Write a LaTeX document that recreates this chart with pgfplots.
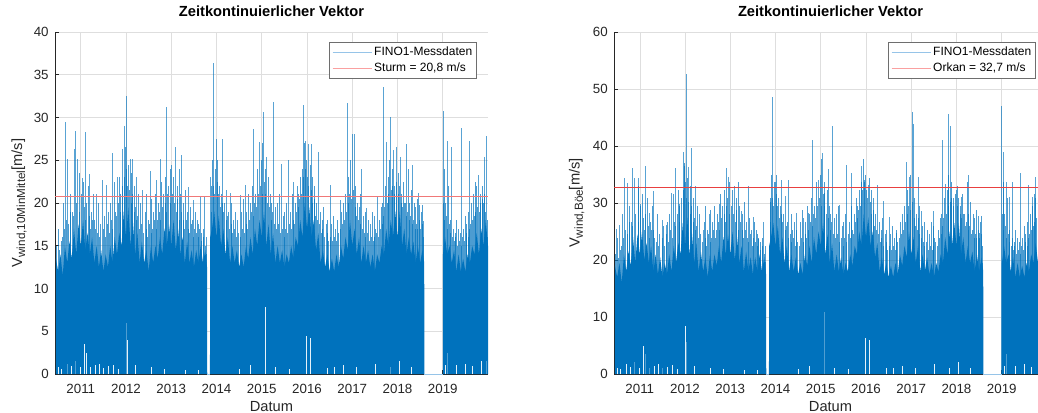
\documentclass[border=0pt]{standalone}
\usepackage{fontspec}
\setmainfont{Liberation Sans}
\usepackage{pgfplots}
\pgfplotsset{compat=1.18}

\definecolor{mblue}{RGB}{0,114,189}
\definecolor{lblue}{RGB}{150,196,232}
\definecolor{axgray}{RGB}{38,38,38}
\definecolor{gridgray}{RGB}{222,222,222}
\definecolor{legframe}{RGB}{110,110,110}
\definecolor{sturmred}{RGB}{240,120,120}
\definecolor{orkanred}{RGB}{232,64,64}
\definecolor{legred}{RGB}{250,160,160}

\newcommand{\sub}[1]{\raisebox{-0.4ex}{\fontsize{7}{8}\selectfont #1}}

\pgfplotsset{
  finoaxis/.style={
    scale only axis,
    width=259.8pt, height=205.2pt,
    anchor=south west,
    xmin=2010.43, xmax=2020.0, ymin=0,
    axis lines*=left,
    axis line style={axgray, line width=0.45pt},
    tick align=inside,
    major tick length=2.6pt,
    tick style={axgray, line width=0.45pt},
    grid=major,
    grid style={gridgray, line width=0.35pt},
    xtick={2011,2012,2013,2014,2015,2016,2017,2018,2019},
    xticklabels={2011,2012,2013,2014,2015,2016,2017,2018,2019},
    /pgf/number format/assume math mode=true,
    ticklabel style={font=\fontsize{8}{9.6}\selectfont, text=axgray},
    xticklabel style={anchor=base, yshift=-11.4pt},
    yticklabel style={anchor=east, inner sep=0pt, xshift=-3.6pt},
    title style={font=\fontsize{8.8}{10}\selectfont\bfseries, at={(0.5,1)}, anchor=base, yshift=3.2pt},
    xlabel style={font=\fontsize{8.8}{10}\selectfont, text=axgray, at={(0.5,0)}, anchor=base, yshift=-22.2pt},
    ylabel style={font=\fontsize{8.8}{10}\selectfont, text=axgray, anchor=center},
    title={Zeitkontinuierlicher Vektor},
    xlabel={Datum},
    legend cell align=left,
    legend image code/.code={\draw[#1] (0pt,0pt) -- (23.4pt,0pt);},
    legend style={at={(1,1)}, anchor=north east, xshift=-6.8pt, yshift=-5.8pt,
      draw=legframe, line width=0.5pt, fill=white,
      font=\fontsize{7.2}{8}\selectfont,
      inner xsep=1.2pt, inner ysep=1.4pt, row sep=0pt,
      nodes={inner xsep=1.2pt, inner ysep=1.4pt}},
  },
  body/.style={draw=none, fill=mblue, forget plot},
  gust/.style={ycomb, mark=none, mblue, line width=0.5pt, opacity=0.7, forget plot},
  peak/.style={ycomb, mark=none, mblue, line width=0.55pt, opacity=0.65, forget plot},
  calm/.style={ycomb, mark=none, white, line width=0.4pt, opacity=0.9, forget plot},
}

\begin{document}
\begin{tikzpicture}

% ---------------- 10-minute mean wind speed ----------------
\begin{axis}[finoaxis, at={(33pt,22.8pt)}, ymax=40,
  ytick={0,5,10,15,20,25,30,35,40},
  ylabel={V\sub{wind,10MinMittel}[m/s]},
  ylabel style={at={(axis description cs:-0.0831,0.5)}}]

\addplot[body] coordinates {
(2010.45,13.5) (2010.50,12) (2010.55,14) (2010.60,11.5) (2010.65,15) (2010.70,13) (2010.75,15.5) (2010.80,13.5)
(2010.85,17) (2010.90,14) (2010.95,17.5) (2011.00,15) (2011.05,18) (2011.10,14.5) (2011.15,16.5) (2011.20,14)
(2011.25,16) (2011.30,13) (2011.35,15) (2011.40,12.5) (2011.45,14.5) (2011.50,12) (2011.55,14) (2011.60,12.5)
(2011.65,15) (2011.70,13) (2011.75,16) (2011.80,14) (2011.85,16.5) (2011.90,15) (2011.95,19) (2012.00,16)
(2012.05,19.5) (2012.10,15) (2012.15,18) (2012.20,14) (2012.25,16.5) (2012.30,13) (2012.35,15.5) (2012.40,13)
(2012.45,14.5) (2012.50,12) (2012.55,15) (2012.60,13) (2012.65,15) (2012.70,13.5) (2012.75,16) (2012.80,14)
(2012.85,17) (2012.90,15) (2012.95,17.5) (2013.00,15) (2013.05,18) (2013.10,14.5) (2013.15,17) (2013.20,14)
(2013.25,16) (2013.30,13) (2013.35,15.5) (2013.40,13) (2013.45,14.5) (2013.50,12.5) (2013.55,14.5) (2013.60,13)
(2013.65,15) (2013.70,13) (2013.75,14.5) (2013.79,12.5) (2013.795,0) (2013.855,0) (2013.86,16)
(2013.90,17) (2013.95,19) (2014.00,16) (2014.05,18.5) (2014.10,15) (2014.15,17) (2014.20,14)
(2014.25,16) (2014.30,13) (2014.35,15) (2014.40,13) (2014.45,14.5) (2014.50,12.5) (2014.55,14) (2014.60,12.5)
(2014.65,15) (2014.70,13.5) (2014.75,16) (2014.80,14) (2014.85,17) (2014.90,15) (2014.95,18) (2015.00,16)
(2015.05,19) (2015.10,15) (2015.15,17.5) (2015.20,14) (2015.25,16.5) (2015.30,13) (2015.35,15) (2015.40,13)
(2015.45,14.5) (2015.50,12.5) (2015.55,14) (2015.60,13) (2015.65,15) (2015.70,13.5) (2015.75,16) (2015.80,15)
(2015.85,18) (2015.90,16) (2015.95,20) (2016.00,17) (2016.05,19.5) (2016.10,16) (2016.15,18) (2016.20,14.5)
(2016.25,16.5) (2016.30,13) (2016.35,14.5) (2016.40,12.5) (2016.45,14) (2016.50,12) (2016.55,13.5) (2016.60,12)
(2016.65,14) (2016.70,12.5) (2016.75,15) (2016.80,13.5) (2016.85,16) (2016.90,14.5) (2016.95,18) (2017.00,15)
(2017.05,17) (2017.10,14) (2017.15,16) (2017.20,13) (2017.25,15) (2017.30,13) (2017.35,14.5) (2017.40,12.5)
(2017.45,14) (2017.50,12) (2017.55,14) (2017.60,13) (2017.65,15) (2017.70,14) (2017.75,17) (2017.80,15)
(2017.85,18) (2017.90,16) (2017.95,19) (2018.00,16) (2018.05,19) (2018.10,15) (2018.15,17) (2018.20,14)
(2018.25,16) (2018.30,14) (2018.35,15.5) (2018.40,13) (2018.45,15) (2018.50,13) (2018.55,14.5) (2018.59,13)
(2018.595,0) (2019.00,0) (2019.005,14)
(2019.05,16) (2019.10,14) (2019.15,15) (2019.20,13) (2019.25,14.5) (2019.30,12) (2019.35,14) (2019.40,12)
(2019.45,13.5) (2019.50,12) (2019.55,14) (2019.60,13) (2019.65,15) (2019.70,14) (2019.75,16.5) (2019.80,14)
(2019.85,17) (2019.90,15) (2019.95,18) (2020.00,15)
} \closedcycle;

\addplot[gust] coordinates {
(2010.46,15) (2010.53,14.5) (2010.59,16) (2010.64,17) (2010.73,17.5) (2010.76,19) (2010.84,18.5) (2010.91,20)
(2010.96,19) (2011.02,21) (2011.08,19.5) (2011.11,18) (2011.18,18.5) (2011.21,17) (2011.25,18) (2011.33,17)
(2011.37,16.5) (2011.42,16) (2011.49,17) (2011.54,16) (2011.58,17.5) (2011.63,16.5) (2011.67,18) (2011.71,17)
(2011.79,18.5) (2011.83,20) (2011.87,19) (2011.93,22) (2011.97,23) (2012.01,24) (2012.04,22) (2012.07,21.5)
(2012.11,20) (2012.14,21) (2012.18,19) (2012.23,18) (2012.26,18.5) (2012.30,17) (2012.34,17.5) (2012.38,16.5)
(2012.44,17) (2012.48,16) (2012.52,17.5) (2012.56,16.5) (2012.59,17) (2012.63,18) (2012.67,17) (2012.70,18)
(2012.74,19) (2012.77,18) (2012.81,19.5) (2012.86,20) (2012.89,19) (2012.92,21) (2012.99,20) (2013.02,21)
(2013.07,20) (2013.11,19) (2013.14,20.5) (2013.19,18) (2013.22,19) (2013.26,18) (2013.29,17) (2013.33,18)
(2013.37,17) (2013.41,16.5) (2013.44,17.5) (2013.48,16) (2013.51,17) (2013.55,16.5) (2013.59,16) (2013.63,17)
(2013.66,15.5) (2013.72,16) (2013.76,15) (2013.78,14) (2013.88,19) (2013.93,22) (2013.96,21) (2014.01,22.5)
(2014.04,21) (2014.08,19.5) (2014.12,20) (2014.16,19) (2014.21,18) (2014.25,18.5) (2014.29,17) (2014.32,17.5)
(2014.36,16.5) (2014.40,17) (2014.44,16) (2014.49,16.5) (2014.53,16) (2014.58,17) (2014.62,16.5) (2014.66,17.5)
(2014.69,17) (2014.73,18) (2014.77,19) (2014.81,18.5) (2014.84,20) (2014.88,19.5) (2014.92,21) (2014.97,22)
(2015.01,21) (2015.06,22.5) (2015.09,21) (2015.13,20) (2015.17,19.5) (2015.21,18) (2015.24,19) (2015.28,17.5)
(2015.32,17) (2015.37,17.5) (2015.41,16.5) (2015.45,17) (2015.49,16) (2015.53,17) (2015.57,16.5) (2015.61,17.5)
(2015.65,17) (2015.69,18) (2015.72,17.5) (2015.76,19) (2015.80,19.5) (2015.84,20.5) (2015.88,21) (2015.91,23)
(2015.97,24) (2016.01,23) (2016.04,22) (2016.09,21.5) (2016.12,20) (2016.16,20.5) (2016.19,18.5) (2016.23,18)
(2016.27,17.5) (2016.31,16.5) (2016.35,17) (2016.39,16) (2016.44,16.5) (2016.48,15.5) (2016.52,16) (2016.57,15.5)
(2016.61,16) (2016.65,15.5) (2016.70,16.5) (2016.74,17) (2016.79,17.5) (2016.83,18) (2016.87,19) (2016.91,20)
(2016.94,21) (2016.99,20.5) (2017.03,21.5) (2017.06,19.5) (2017.09,18.5) (2017.13,18) (2017.17,17.5) (2017.22,17)
(2017.26,16.5) (2017.30,16) (2017.34,16.5) (2017.38,15.5) (2017.42,16) (2017.46,15.5) (2017.50,16) (2017.54,16.5)
(2017.58,16) (2017.62,17) (2017.66,17.5) (2017.69,18.5) (2017.72,19.5) (2017.77,20) (2017.81,21) (2017.86,21.5)
(2017.89,22) (2017.93,21) (2017.97,22.5) (2018.02,21) (2018.04,22) (2018.08,20) (2018.11,19.5) (2018.15,20)
(2018.19,18.5) (2018.22,19) (2018.26,18) (2018.29,18.5) (2018.33,17.5) (2018.36,18) (2018.39,17) (2018.42,17.5)
(2018.45,17) (2018.48,18) (2018.51,17) (2018.55,17.5) (2018.58,16) (2019.02,20) (2019.04,18) (2019.08,18.5)
(2019.11,17) (2019.14,17.5) (2019.18,16.5) (2019.22,16) (2019.26,15.5) (2019.29,16) (2019.33,15) (2019.37,15.5)
(2019.41,15) (2019.44,16) (2019.48,15.5) (2019.52,16.5) (2019.56,16) (2019.59,17) (2019.62,17.5) (2019.66,18)
(2019.70,18.5) (2019.73,19) (2019.77,19.5) (2019.81,19) (2019.84,20) (2019.88,20.5) (2019.92,21) (2019.94,19)
(2019.99,18)
};

\addplot[gust] coordinates {
(2010.50,17) (2010.57,15.5) (2010.62,20) (2010.68,18) (2010.78,21) (2010.82,19) (2010.98,23.5) (2011.06,22.5)
(2011.13,20) (2011.16,22) (2011.23,19) (2011.27,21) (2011.31,18) (2011.40,20) (2011.44,17.5) (2011.52,18.5)
(2011.61,19) (2011.65,20) (2011.74,22.5) (2011.77,19) (2011.85,23) (2011.88,21) (2011.99,26.5) (2012.05,24.5)
(2012.12,23.5) (2012.19,22) (2012.21,19.5) (2012.28,21) (2012.32,20) (2012.42,19) (2012.46,21) (2012.50,18)
(2012.57,20.5) (2012.61,19) (2012.65,21) (2012.72,20) (2012.79,22.5) (2012.83,21) (2012.87,23) (2012.94,22)
(2012.97,24) (2013.04,23) (2013.13,22) (2013.17,24) (2013.20,21) (2013.27,20) (2013.31,21.5) (2013.35,19)
(2013.42,19.5) (2013.46,18) (2013.53,19) (2013.57,18) (2013.61,17.5) (2013.67,16.5) (2013.70,17) (2013.77,16)
(2013.89,22) (2013.91,25) (2013.97,24) (2014.02,25) (2014.06,22) (2014.10,21) (2014.18,20) (2014.27,19)
(2014.34,20) (2014.38,18) (2014.42,19) (2014.47,18) (2014.56,19) (2014.60,20.5) (2014.67,19) (2014.71,21)
(2014.75,20) (2014.79,22) (2014.86,21) (2014.90,24) (2014.99,25) (2015.02,27) (2015.07,24) (2015.15,23)
(2015.19,21) (2015.22,20) (2015.30,19.5) (2015.34,20) (2015.38,21) (2015.47,18.5) (2015.51,19) (2015.55,20)
(2015.63,19) (2015.67,21) (2015.74,20) (2015.78,22) (2015.82,21) (2015.86,23) (2015.89,24) (2015.94,27)
(2015.99,25) (2016.07,24.5) (2016.13,23) (2016.17,22) (2016.21,20) (2016.29,19) (2016.33,18) (2016.37,19.5)
(2016.42,17.5) (2016.46,18) (2016.55,17.5) (2016.59,18.5) (2016.63,17) (2016.68,18) (2016.77,19) (2016.81,20)
(2016.85,21) (2016.92,23) (2016.97,25) (2017.07,22) (2017.11,20) (2017.15,19.5) (2017.18,21) (2017.24,18.5)
(2017.28,19) (2017.36,18) (2017.40,17.5) (2017.44,19) (2017.48,18.5) (2017.52,17) (2017.60,18) (2017.64,19.5)
(2017.67,20) (2017.73,22) (2017.79,23) (2017.82,25) (2017.88,24) (2017.94,22) (2018.01,23.5) (2018.03,22)
(2018.09,21) (2018.13,22.5) (2018.17,20) (2018.23,24) (2018.27,20) (2018.31,21.5) (2018.37,20) (2018.40,19.5)
(2018.43,20.5) (2018.49,19.8) (2018.53,19) (2018.56,19.8) (2019.03,24) (2019.06,20) (2019.13,22) (2019.16,18)
(2019.23,17) (2019.27,16.5) (2019.31,18) (2019.35,17) (2019.39,16.5) (2019.45,17) (2019.49,18.5) (2019.53,17.5)
(2019.57,19) (2019.64,20) (2019.68,21) (2019.72,22.5) (2019.75,22) (2019.83,21) (2019.87,22) (2019.90,20)
(2019.98,16)
};

\addplot[calm] coordinates {
(2010.50,0.8) (2010.58,0.6) (2010.70,1.2) (2010.80,0.9) (2010.87,1.5) (2011.00,0.8) (2011.08,3.5) (2011.12,2.5)
(2011.20,0.8) (2011.33,1.0) (2011.42,1.2) (2011.50,0.7) (2011.60,0.9) (2011.73,1.1) (2011.82,0.6) (2012.00,6.0)
(2012.03,4.0) (2012.20,1.0) (2012.55,0.8) (2012.85,0.6) (2013.30,0.5) (2013.60,0.5) (2014.50,0.6) (2014.75,1.0)
(2015.08,7.8) (2015.30,0.8) (2015.60,0.6) (2015.98,4.5) (2016.07,4.2) (2016.45,0.7) (2016.60,0.8) (2016.80,1.0)
(2017.10,0.8) (2017.50,1.2) (2017.85,0.8) (2018.05,1.5) (2018.30,0.8) (2019.05,1.0) (2019.10,2.5) (2019.30,1.0)
(2019.50,1.2) (2019.65,0.9) (2019.85,1.5) (2019.97,1.5)
};

\addplot[peak] coordinates {
(2010.66,29.5) (2010.71,25.2) (2010.85,26.3) (2010.88,28.4) (2010.93,25.2) (2011.03,22.9) (2011.10,28.3)
(2011.19,23.4) (2011.35,21.1) (2011.47,22.7) (2011.57,22.1) (2011.69,25.9) (2011.80,23.1) (2011.91,26.3)
(2011.96,29.0) (2012.02,32.5) (2012.09,25.1) (2012.15,25.1) (2012.24,23.1) (2012.37,21.5) (2012.53,23.8)
(2012.68,22.7) (2012.75,25.2) (2012.90,31.2) (2013.00,24.4) (2013.09,26.6) (2013.23,25.6) (2013.38,21.9)
(2013.49,20.3) (2013.64,20.7) (2013.74,20.7) (2013.87,23.1) (2013.94,36.4) (2013.99,27.5) (2014.14,27.5)
(2014.23,21.5) (2014.30,21.2) (2014.52,20.9) (2014.63,22.1) (2014.82,28.6) (2014.95,27.1) (2015.04,30.6)
(2015.11,25.4) (2015.26,31.8) (2015.43,24.6) (2015.59,25.0) (2015.70,22.5) (2015.92,31.5) (2015.96,27.3)
(2016.03,26.9) (2016.10,26.9) (2016.25,26.0) (2016.51,22.1) (2016.73,20.3) (2016.89,31.7) (2017.01,28.1)
(2017.04,28.1) (2017.21,24.0) (2017.32,19.4) (2017.56,20.7) (2017.70,33.6) (2017.76,27.1) (2017.84,30.1)
(2017.91,26.2) (2017.98,26.6) (2018.06,25.4) (2018.20,26.9) (2018.34,24.5) (2018.46,21.2) (2018.57,17.9)
(2019.01,30.8) (2019.10,27.3) (2019.20,26.6) (2019.42,28.8) (2019.60,27.2) (2019.79,23.3) (2019.93,25.4)
(2019.96,27.8)
};

\addplot[lblue, line width=0.6pt, forget plot] coordinates {(2013.79,0) (2013.86,0)};
\addplot[lblue, line width=0.6pt, forget plot] coordinates {(2018.59,0) (2019.0,0)};
\addplot[color=sturmred, line width=0.8pt, forget plot] coordinates {(2010.43,20.8) (2020.0,20.8)};

\addlegendimage{lblue, line width=0.8pt}
\addlegendentry{FINO1-Messdaten}
\addlegendimage{legred, line width=0.8pt}
\addlegendentry{Sturm = 20,8 m/s}
\end{axis}

% ---------------- gust wind speed ----------------
\begin{axis}[finoaxis, at={(368.4pt,22.8pt)}, ymax=60,
  ytick={0,10,20,30,40,50,60},
  ylabel={V\sub{wind,Böe}[m/s]},
  ylabel style={at={(axis description cs:-0.0862,0.5)}}]

\addplot[body] coordinates {
(2010.45,19) (2010.50,17) (2010.55,19.5) (2010.60,16) (2010.65,21) (2010.70,18) (2010.75,21.5) (2010.80,19)
(2010.85,24) (2010.90,19.5) (2010.95,24.5) (2011.00,21) (2011.05,25) (2011.10,20) (2011.15,23) (2011.20,19.5)
(2011.25,22.5) (2011.30,18) (2011.35,21) (2011.40,17.5) (2011.45,20.5) (2011.50,17) (2011.55,19.5) (2011.60,17.5)
(2011.65,21) (2011.70,18) (2011.75,22.5) (2011.80,19.5) (2011.85,23) (2011.90,21) (2011.95,26.5) (2012.00,22.5)
(2012.05,27.5) (2012.10,21) (2012.15,25) (2012.20,19.5) (2012.25,23) (2012.30,18) (2012.35,21.5) (2012.40,18)
(2012.45,20.5) (2012.50,17) (2012.55,21) (2012.60,18) (2012.65,21) (2012.70,19) (2012.75,22.5) (2012.80,19.5)
(2012.85,24) (2012.90,21) (2012.95,24.5) (2013.00,21) (2013.05,25) (2013.10,20) (2013.15,24) (2013.20,19.5)
(2013.25,22.5) (2013.30,18) (2013.35,21.5) (2013.40,18) (2013.45,20.5) (2013.50,17.5) (2013.55,20.5) (2013.60,18)
(2013.65,21) (2013.70,18) (2013.75,20.5) (2013.79,17.5) (2013.795,0) (2013.855,0) (2013.86,22.5)
(2013.90,24) (2013.95,26.5) (2014.00,22.5) (2014.05,26) (2014.10,21) (2014.15,24) (2014.20,19.5)
(2014.25,22.5) (2014.30,18) (2014.35,21) (2014.40,18) (2014.45,20.5) (2014.50,17.5) (2014.55,19.5) (2014.60,17.5)
(2014.65,21) (2014.70,19) (2014.75,22.5) (2014.80,19.5) (2014.85,24) (2014.90,21) (2014.95,25) (2015.00,22.5)
(2015.05,26.5) (2015.10,21) (2015.15,24.5) (2015.20,19.5) (2015.25,23) (2015.30,18) (2015.35,21) (2015.40,18)
(2015.45,20.5) (2015.50,17.5) (2015.55,19.5) (2015.60,18) (2015.65,21) (2015.70,19) (2015.75,22.5) (2015.80,21)
(2015.85,25) (2015.90,22.5) (2015.95,28) (2016.00,24) (2016.05,27.5) (2016.10,22.5) (2016.15,25) (2016.20,20.5)
(2016.25,23) (2016.30,18) (2016.35,20.5) (2016.40,17.5) (2016.45,19.5) (2016.50,17) (2016.55,19) (2016.60,17)
(2016.65,19.5) (2016.70,17.5) (2016.75,21) (2016.80,19) (2016.85,22.5) (2016.90,20.5) (2016.95,25) (2017.00,21)
(2017.05,24) (2017.10,19.5) (2017.15,22.5) (2017.20,18) (2017.25,21) (2017.30,18) (2017.35,20.5) (2017.40,17.5)
(2017.45,19.5) (2017.50,17) (2017.55,19.5) (2017.60,18) (2017.65,21) (2017.70,19.5) (2017.75,24) (2017.80,21)
(2017.85,25) (2017.90,22.5) (2017.95,26.5) (2018.00,22.5) (2018.05,26.5) (2018.10,21) (2018.15,24) (2018.20,19.5)
(2018.25,22.5) (2018.30,19.5) (2018.35,21.5) (2018.40,18) (2018.45,21) (2018.50,18) (2018.55,20.5) (2018.59,18)
(2018.595,0) (2019.00,0) (2019.005,19.5)
(2019.05,22.5) (2019.10,19.5) (2019.15,21) (2019.20,18) (2019.25,20.5) (2019.30,17) (2019.35,19.5) (2019.40,17)
(2019.45,19) (2019.50,17) (2019.55,19.5) (2019.60,18) (2019.65,21) (2019.70,19.5) (2019.75,23) (2019.80,19.5)
(2019.85,24) (2019.90,21) (2019.95,25) (2020.00,21)
} \closedcycle;

\addplot[gust] coordinates {
(2010.46,21) (2010.53,20.3) (2010.59,22.4) (2010.64,23.8) (2010.73,24.5) (2010.76,26.6) (2010.84,25.9) (2010.91,28)
(2010.96,26.6) (2011.02,29.4) (2011.08,27.3) (2011.11,25.2) (2011.18,25.9) (2011.21,23.8) (2011.25,25.2) (2011.33,23.8)
(2011.37,23.1) (2011.42,22.4) (2011.49,23.8) (2011.54,22.4) (2011.58,24.5) (2011.63,23.1) (2011.67,25.2) (2011.71,23.8)
(2011.79,25.9) (2011.83,28) (2011.87,26.6) (2011.93,30.8) (2011.97,32.2) (2012.01,33.6) (2012.04,30.8) (2012.07,30.1)
(2012.11,28) (2012.14,29.4) (2012.18,26.6) (2012.23,25.2) (2012.26,25.9) (2012.30,23.8) (2012.34,24.5) (2012.38,23.1)
(2012.44,23.8) (2012.48,22.4) (2012.52,24.5) (2012.56,23.1) (2012.59,23.8) (2012.63,25.2) (2012.67,23.8) (2012.70,25.2)
(2012.74,26.6) (2012.77,25.2) (2012.81,27.3) (2012.86,28) (2012.89,26.6) (2012.92,29.4) (2012.99,28) (2013.02,29.4)
(2013.07,28) (2013.11,26.6) (2013.14,28.7) (2013.19,25.2) (2013.22,26.6) (2013.26,25.2) (2013.29,23.8) (2013.33,25.2)
(2013.37,23.8) (2013.41,23.1) (2013.44,24.5) (2013.48,22.4) (2013.51,23.8) (2013.55,23.1) (2013.59,22.4) (2013.63,23.8)
(2013.66,21.7) (2013.72,22.4) (2013.76,21) (2013.78,19.6) (2013.88,26.6) (2013.93,30.8) (2013.96,29.4) (2014.01,31.5)
(2014.04,29.4) (2014.08,27.3) (2014.12,28) (2014.16,26.6) (2014.21,25.2) (2014.25,25.9) (2014.29,23.8) (2014.32,24.5)
(2014.36,23.1) (2014.40,23.8) (2014.44,22.4) (2014.49,23.1) (2014.53,22.4) (2014.58,23.8) (2014.62,23.1) (2014.66,24.5)
(2014.69,23.8) (2014.73,25.2) (2014.77,26.6) (2014.81,25.9) (2014.84,28) (2014.88,27.3) (2014.92,29.4) (2014.97,30.8)
(2015.01,29.4) (2015.06,31.5) (2015.09,29.4) (2015.13,28) (2015.17,27.3) (2015.21,25.2) (2015.24,26.6) (2015.28,24.5)
(2015.32,23.8) (2015.37,24.5) (2015.41,23.1) (2015.45,23.8) (2015.49,22.4) (2015.53,23.8) (2015.57,23.1) (2015.61,24.5)
(2015.65,23.8) (2015.69,25.2) (2015.72,24.5) (2015.76,26.6) (2015.80,27.3) (2015.84,28.7) (2015.88,29.4) (2015.91,32.2)
(2015.97,33.6) (2016.01,32.2) (2016.04,30.8) (2016.09,30.1) (2016.12,28) (2016.16,28.7) (2016.19,25.9) (2016.23,25.2)
(2016.27,24.5) (2016.31,23.1) (2016.35,23.8) (2016.39,22.4) (2016.44,23.1) (2016.48,21.7) (2016.52,22.4) (2016.57,21.7)
(2016.61,22.4) (2016.65,21.7) (2016.70,23.1) (2016.74,23.8) (2016.79,24.5) (2016.83,25.2) (2016.87,26.6) (2016.91,28)
(2016.94,29.4) (2016.99,28.7) (2017.03,30.1) (2017.06,27.3) (2017.09,25.9) (2017.13,25.2) (2017.17,24.5) (2017.22,23.8)
(2017.26,23.1) (2017.30,22.4) (2017.34,23.1) (2017.38,21.7) (2017.42,22.4) (2017.46,21.7) (2017.50,22.4) (2017.54,23.1)
(2017.58,22.4) (2017.62,23.8) (2017.66,24.5) (2017.69,25.9) (2017.72,27.3) (2017.77,28) (2017.81,29.4) (2017.86,30.1)
(2017.89,30.8) (2017.93,29.4) (2017.97,31.5) (2018.02,29.4) (2018.04,30.8) (2018.08,28) (2018.11,27.3) (2018.15,28)
(2018.19,25.9) (2018.22,26.6) (2018.26,25.2) (2018.29,25.9) (2018.33,24.5) (2018.36,25.2) (2018.39,23.8) (2018.42,24.5)
(2018.45,23.8) (2018.48,25.2) (2018.51,23.8) (2018.55,24.5) (2018.58,22.4) (2019.02,28) (2019.04,25.2) (2019.08,25.9)
(2019.11,23.8) (2019.14,24.5) (2019.18,23.1) (2019.22,22.4) (2019.26,21.7) (2019.29,22.4) (2019.33,21) (2019.37,21.7)
(2019.41,21) (2019.44,22.4) (2019.48,21.7) (2019.52,23.1) (2019.56,22.4) (2019.59,23.8) (2019.62,24.5) (2019.66,25.2)
(2019.70,25.9) (2019.73,26.6) (2019.77,27.3) (2019.81,26.6) (2019.84,28) (2019.88,28.7) (2019.92,29.4) (2019.94,26.6)
(2019.99,25.2)
};

\addplot[gust] coordinates {
(2010.50,23.8) (2010.57,21.7) (2010.62,28) (2010.68,25.2) (2010.78,29.4) (2010.82,26.6) (2010.98,32.9) (2011.06,31.5)
(2011.13,28) (2011.16,30.8) (2011.23,26.6) (2011.27,29.4) (2011.31,25.2) (2011.40,28) (2011.44,24.5) (2011.52,25.9)
(2011.61,26.6) (2011.65,28) (2011.74,31.5) (2011.77,26.6) (2011.85,32.2) (2011.88,29.4) (2011.99,37.1) (2012.05,34.3)
(2012.12,32.9) (2012.19,30.8) (2012.21,27.3) (2012.28,29.4) (2012.32,28) (2012.42,26.6) (2012.46,29.4) (2012.50,25.2)
(2012.57,28.7) (2012.61,26.6) (2012.65,29.4) (2012.72,28) (2012.79,31.5) (2012.83,29.4) (2012.87,32.2) (2012.94,30.8)
(2012.97,33.6) (2013.04,32.2) (2013.13,30.8) (2013.17,33.6) (2013.20,29.4) (2013.27,28) (2013.31,30.1) (2013.35,26.6)
(2013.42,27.3) (2013.46,25.2) (2013.53,26.6) (2013.57,25.2) (2013.61,24.5) (2013.67,23.1) (2013.70,23.8) (2013.77,22.4)
(2013.89,30.8) (2013.91,35) (2013.97,33.6) (2014.02,35) (2014.06,30.8) (2014.10,29.4) (2014.18,28) (2014.27,26.6)
(2014.34,28) (2014.38,25.2) (2014.42,26.6) (2014.47,25.2) (2014.56,26.6) (2014.60,28.7) (2014.67,26.6) (2014.71,29.4)
(2014.75,28) (2014.79,30.8) (2014.86,29.4) (2014.90,33.6) (2014.99,35) (2015.02,37.8) (2015.07,33.6) (2015.15,32.2)
(2015.19,29.4) (2015.22,28) (2015.30,27.3) (2015.34,28) (2015.38,29.4) (2015.47,25.9) (2015.51,26.6) (2015.55,28)
(2015.63,26.6) (2015.67,29.4) (2015.74,28) (2015.78,30.8) (2015.82,29.4) (2015.86,32.2) (2015.89,33.6) (2015.94,37.8)
(2015.99,35) (2016.07,34.3) (2016.13,32.2) (2016.17,30.8) (2016.21,28) (2016.29,26.6) (2016.33,25.2) (2016.37,27.3)
(2016.42,24.5) (2016.46,25.2) (2016.55,24.5) (2016.59,25.9) (2016.63,23.8) (2016.68,25.2) (2016.77,26.6) (2016.81,28)
(2016.85,29.4) (2016.92,32.2) (2016.97,35) (2017.07,30.8) (2017.11,28) (2017.15,27.3) (2017.18,29.4) (2017.24,25.9)
(2017.28,26.6) (2017.36,25.2) (2017.40,24.5) (2017.44,26.6) (2017.48,25.9) (2017.52,23.8) (2017.60,25.2) (2017.64,27.3)
(2017.67,28) (2017.73,30.8) (2017.79,32.2) (2017.82,35) (2017.88,33.6) (2017.94,30.8) (2018.01,32.9) (2018.03,30.8)
(2018.09,29.4) (2018.13,31.5) (2018.17,28) (2018.23,33.6) (2018.27,28) (2018.31,30.1) (2018.37,28) (2018.40,27.3)
(2018.43,28.7) (2018.49,27.7) (2018.53,26.6) (2018.56,27.7) (2019.03,33.6) (2019.06,28) (2019.13,30.8) (2019.16,25.2)
(2019.23,23.8) (2019.27,23.1) (2019.31,25.2) (2019.35,23.8) (2019.39,23.1) (2019.45,23.8) (2019.49,25.9) (2019.53,24.5)
(2019.57,26.6) (2019.64,28) (2019.68,29.4) (2019.72,31.5) (2019.75,30.8) (2019.83,29.4) (2019.87,30.8) (2019.90,28)
(2019.98,22.4)
};

\addplot[calm] coordinates {
(2010.50,1.1) (2010.58,0.8) (2010.70,1.7) (2010.80,1.3) (2010.87,2.1) (2011.00,1.1) (2011.08,4.9) (2011.12,3.5)
(2011.20,1.1) (2011.33,1.4) (2011.42,1.7) (2011.50,1.0) (2011.60,1.3) (2011.73,1.5) (2011.82,0.8) (2012.00,8.4)
(2012.03,5.6) (2012.20,1.4) (2012.55,1.1) (2012.85,0.8) (2013.30,0.7) (2013.60,0.7) (2014.50,0.8) (2014.75,1.4)
(2015.08,10.9) (2015.30,1.1) (2015.60,0.8) (2015.98,6.3) (2016.07,5.9) (2016.45,1.0) (2016.60,1.1) (2016.80,1.4)
(2017.10,1.1) (2017.50,1.7) (2017.85,1.1) (2018.05,2.1) (2018.30,1.1) (2019.05,1.4) (2019.10,3.5) (2019.30,1.4)
(2019.50,1.7) (2019.65,1.3) (2019.85,2.1) (2019.97,2.1)
};

\addplot[peak] coordinates {
(2010.49,25.5) (2010.54,26.1) (2010.67,34.3) (2010.72,33.5) (2010.83,36.2) (2010.89,34.3) (2010.96,34.3)
(2011.01,29.9) (2011.12,36.5) (2011.22,28.2) (2011.31,32.1) (2011.49,27.0) (2011.60,26.1) (2011.70,31.7)
(2011.79,36.2) (2011.87,29.9) (2011.96,39.0) (2011.98,36.5) (2012.04,52.6) (2012.08,36.3) (2012.15,39.6)
(2012.23,32.9) (2012.41,25.2) (2012.54,28.0) (2012.76,29.9) (2012.92,36.2) (2012.96,34.6) (2013.09,32.9)
(2013.24,28.6) (2013.40,32.9) (2013.51,27.6) (2013.63,23.6) (2013.73,26.7) (2013.88,30.2) (2013.93,48.6)
(2013.99,33.7) (2014.14,34.1) (2014.22,31.2) (2014.29,34.0) (2014.47,28.2) (2014.61,27.3) (2014.73,28.2)
(2014.82,41.0) (2014.95,34.0) (2015.03,38.7) (2015.09,31.8) (2015.17,35.9) (2015.25,43.5) (2015.42,29.6)
(2015.57,36.6) (2015.68,35.2) (2015.91,36.5) (2015.96,34.0) (2016.05,33.1) (2016.25,33.1) (2016.38,30.3)
(2016.51,27.6) (2016.67,24.7) (2016.89,37.2) (2016.95,34.6) (2017.02,46.0) (2017.05,43.8) (2017.15,34.6)
(2017.22,28.6) (2017.48,28.6) (2017.70,41.0) (2017.76,33.4) (2017.83,45.7) (2017.86,43.5) (2018.00,32.2)
(2018.11,31.1) (2018.27,34.9) (2018.51,24.8) (2018.57,19.5) (2019.00,47.0) (2019.04,39.0) (2019.10,33.7)
(2019.16,31.1) (2019.24,33.7) (2019.41,35.2) (2019.59,33.1) (2019.68,31.1) (2019.74,34.6) (2019.86,30.5)
(2019.95,33.0)
};

\addplot[lblue, line width=0.6pt, forget plot] coordinates {(2013.79,0) (2013.86,0)};
\addplot[lblue, line width=0.6pt, forget plot] coordinates {(2018.59,0) (2019.0,0)};
\addplot[color=orkanred, line width=0.85pt, forget plot] coordinates {(2010.43,32.7) (2020.0,32.7)};

\addlegendimage{lblue, line width=0.8pt}
\addlegendentry{FINO1-Messdaten}
\addlegendimage{legred, line width=0.8pt}
\addlegendentry{Orkan = 32,7 m/s}
\end{axis}

\pgfresetboundingbox
\useasboundingbox (0pt,0pt) rectangle (622.8pt,247.2pt);
\end{tikzpicture}
\end{document}
